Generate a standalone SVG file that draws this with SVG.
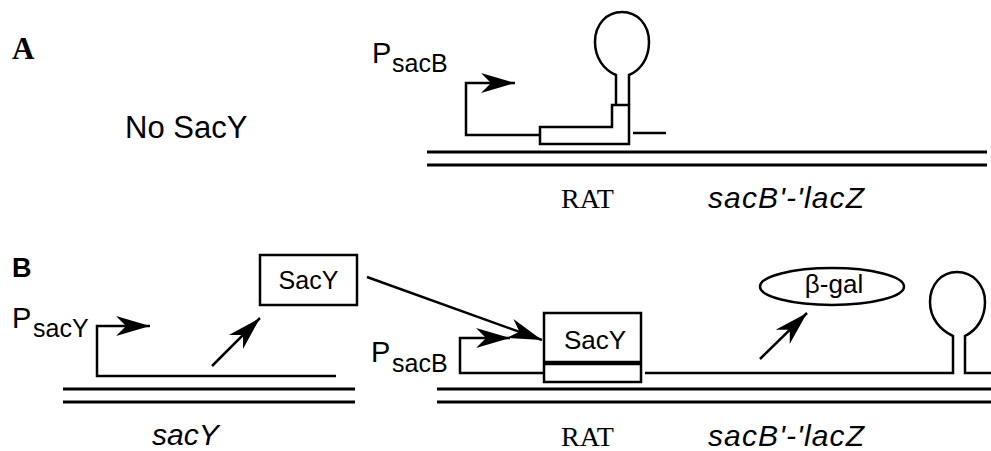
<svg xmlns="http://www.w3.org/2000/svg" width="991" height="451" viewBox="0 0 991 451">
<style>
.ln{fill:none;stroke:#000;stroke-width:2.5}
.dbl{fill:none;stroke:#000;stroke-width:3}
.box{fill:#fff;stroke:#000;stroke-width:2.5}
.sans{font-family:"Liberation Sans",Arial,sans-serif;fill:#000}
.serif{font-family:"Liberation Serif","Times New Roman",serif;fill:#000}
.it{font-style:italic}
</style>
<defs>
<marker id="ah" markerUnits="userSpaceOnUse" markerWidth="40" markerHeight="26" viewBox="-36 -13 40 26" refX="0" refY="0" orient="auto">
<path d="M0,0 L-34,-10 L-24,0 L-34,10 Z" fill="#000"/>
</marker>
</defs>
<rect width="991" height="451" fill="#fff"/>

<g id="panelA-labels">
<text class="serif" x="12" y="59" font-size="31" font-weight="bold">A</text>
<text class="sans" x="125" y="138" font-size="31">No SacY</text>
</g>

<g id="A-dna">
<line class="dbl" x1="427" y1="152" x2="987" y2="152"/>
<line class="dbl" x1="427" y1="165" x2="987" y2="165"/>
<text class="serif" x="561" y="208" font-size="28">RAT</text>
<text class="sans it" x="708" y="208" font-size="30" textLength="156">sacB'-'lacZ</text>
</g>

<g id="A-promoter">
<text class="sans" x="372" y="63" font-size="29">P<tspan x="392" y="72" font-size="25">sacB</tspan></text>
</g>

<g id="A-rat">
<polygon class="box" points="540,127 612,127 612,105 629,105 629,144 540,144"/>
</g>

<g id="A-terminator">
<path class="ln" d="M616,105 V75 C604,70 595,58 595,42 C595,24 607,12 622,12 C637,12 649,24 649,42 C649,58 641,70 629,75 V105"/>
</g>

<g id="B-labels">
<text class="sans" x="12" y="277" font-size="27" font-weight="bold">B</text>
</g>

<g id="B-sacY-gene">
<line class="dbl" x1="63" y1="389" x2="355" y2="389"/>
<line class="dbl" x1="63" y1="402" x2="355" y2="402"/>
<text class="sans it" x="152" y="445" font-size="30">sacY</text>
<text class="sans" x="12" y="328" font-size="29">P<tspan x="33" y="337" font-size="25">sacY</tspan></text>
</g>

<g id="B-SacY-protein">
<rect class="box" x="260" y="255" width="97" height="50"/>
<text class="sans" x="308.5" y="289" font-size="25" text-anchor="middle">SacY</text>
</g>

<g id="B-reporter">
<line class="dbl" x1="437" y1="389" x2="991" y2="389"/>
<line class="dbl" x1="437" y1="402" x2="991" y2="402"/>
<text class="serif" x="561" y="446" font-size="28">RAT</text>
<text class="sans it" x="708" y="446" font-size="30" textLength="156">sacB'-'lacZ</text>
<text class="sans" x="371" y="362" font-size="29">P<tspan x="392" y="372" font-size="25">sacB</tspan></text>
</g>

<g id="B-RAT-bound">
<rect class="box" x="544" y="313" width="97" height="69"/>
<line x1="544" y1="363" x2="641" y2="363" stroke="#000" stroke-width="4.5"/>
<text class="sans" x="595" y="349" font-size="26" text-anchor="middle">SacY</text>
</g>

<g id="B-bgal">
<ellipse class="box" cx="832" cy="286.5" rx="72" ry="18.5"/>
<text class="sans" x="834" y="293" font-size="26" text-anchor="middle">β-gal</text>
</g>

<g id="B-terminator">
<path class="ln" d="M645,373 H953 V336 C940,330 930,318 930,302 C930,284 942,272 957,272 C972,272 985,284 985,302 C985,318 977,330 965,336 V373 H991"/>
</g>

<g id="connectors">
<path class="ln" d="M540,135 H466 V83 H515" marker-end="url(#ah)"/>
<path class="ln" d="M633,133 H666"/>
<path class="ln" d="M336,376 H97 V326 H150" marker-end="url(#ah)"/>
<path class="ln" d="M212,366 L260,318" stroke-width="3" marker-end="url(#ah)"/>
<path class="ln" d="M367,277 L542,340" stroke-width="3" marker-end="url(#ah)"/>
<path class="ln" d="M544,373 H460 V338 H510" marker-end="url(#ah)"/>
<path class="ln" d="M760,359 L807,313" stroke-width="3" marker-end="url(#ah)"/>
</g>
</svg>
